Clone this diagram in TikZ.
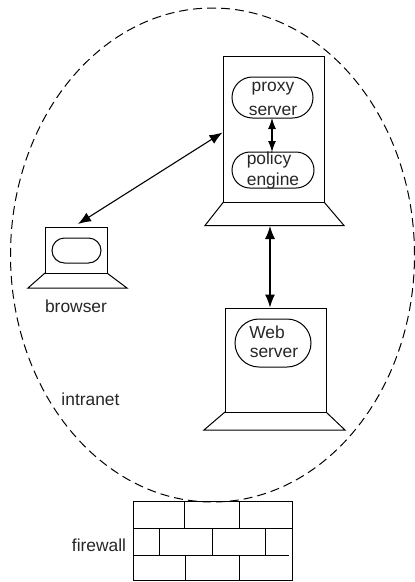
\documentclass[tikz,border=0pt]{standalone}
\usepackage{fontspec}
\setmainfont{Liberation Sans}
\usetikzlibrary{shapes.misc,shapes.geometric,arrows.meta}
\tikzset{
  x=1pt,y=-1pt,
  line/.style={line width=1pt,black},
  boxnode/.style={draw,line width=1pt,inner sep=0pt,outer sep=0pt,rectangle},
  pill/.style={draw,line width=1pt,inner sep=0pt,outer sep=0pt,rounded rectangle,rounded rectangle arc length=180},
  lbl/.style={inner sep=0pt,outer sep=0pt,font=\fontsize{17.4pt}{20pt}\selectfont,text=black!85},
  dbl/.style={line width=1.1pt,{Latex[length=13pt,width=10pt]}-{Latex[length=13pt,width=10pt]}},
  dblsmall/.style={line width=1.1pt,{Latex[length=11pt,width=8pt]}-{Latex[length=11pt,width=8pt]}},
}
\newcommand{\boxat}[5]{\node[#1,minimum width=#4 pt,minimum height=#5 pt] (#2) at (#3) {};}
\begin{document}
\begin{tikzpicture}
\useasboundingbox (0,0) rectangle (415,582);
% intranet boundary
\node[draw,dash pattern=on 9pt off 5pt,line width=1pt,ellipse,inner sep=0pt,outer sep=0pt,minimum width=404pt,minimum height=494pt] (intranet) at (212.5,255) {};
% proxy host
\boxat{boxnode}{proxy}{273.75,129}{100.5}{146}
\coordinate (pbL) at (205,225.5);
\coordinate (pbR) at (344,225.5);
\draw[line] (proxy.south west) -- (pbL) -- (pbR) -- (proxy.south east);
\boxat{pill}{proxypill}{272.5,97.5}{81}{41}
\boxat{pill}{policypill}{273,170}{82}{36}
\node[lbl] (proxyt) at (273,89) {proxy};
\node[lbl] (servert) at (273,110.5) {server};
\node[lbl] (policyt) at (269,160) {policy};
\node[lbl] (enginet) at (273,180.5) {engine};
\coordinate (a1) at (272,118);
\coordinate (a2) at (272,152);
\draw[dblsmall] (a1) -- (a2);
% browser host
\boxat{boxnode}{brow}{76,250}{62}{46}
\coordinate (bbL) at (28,288);
\coordinate (bbR) at (127,288);
\draw[line] (brow.south west) -- (bbL) -- (bbR) -- (brow.south east);
\boxat{pill}{browpill}{76.5,250.5}{49}{25}
\node[lbl] (browt) at (76,306) {browser};
% web host
\boxat{boxnode}{web}{275.5,360}{101}{104}
\coordinate (wbL) at (204,430);
\coordinate (wbR) at (345,430);
\draw[line] (web.south west) -- (wbL) -- (wbR) -- (web.south east);
\boxat{pill}{webpill}{273,343}{76}{48}
\node[lbl] (webt) at (267,332) {Web};
\node[lbl] (servt) at (274,353) {server};
% connectors
\coordinate (c1) at (78,224);
\coordinate (c2) at (222.5,132.5);
\draw[dbl] (c1) -- (c2);
\coordinate (d1) at (270,226);
\coordinate (d2) at (270,307.5);
\draw[dbl] (d1) -- (d2);
\node[lbl] (intt) at (90.5,399) {intranet};
% firewall
\boxat{boxnode}{fw}{212.5,540.5}{159}{79}
\draw[line] (133,528) -- (292,528) (133,555) -- (289,555);
\draw[line] (184,501) -- (184,528) (239,501) -- (239,528);
\draw[line] (159,528) -- (159,555) (212,528) -- (212,555) (265,528) -- (265,555);
\draw[line] (185,555) -- (185,581) (239,555) -- (239,581);
\node[lbl] (fwt) at (99,545) {firewall};
\end{tikzpicture}
\end{document}
